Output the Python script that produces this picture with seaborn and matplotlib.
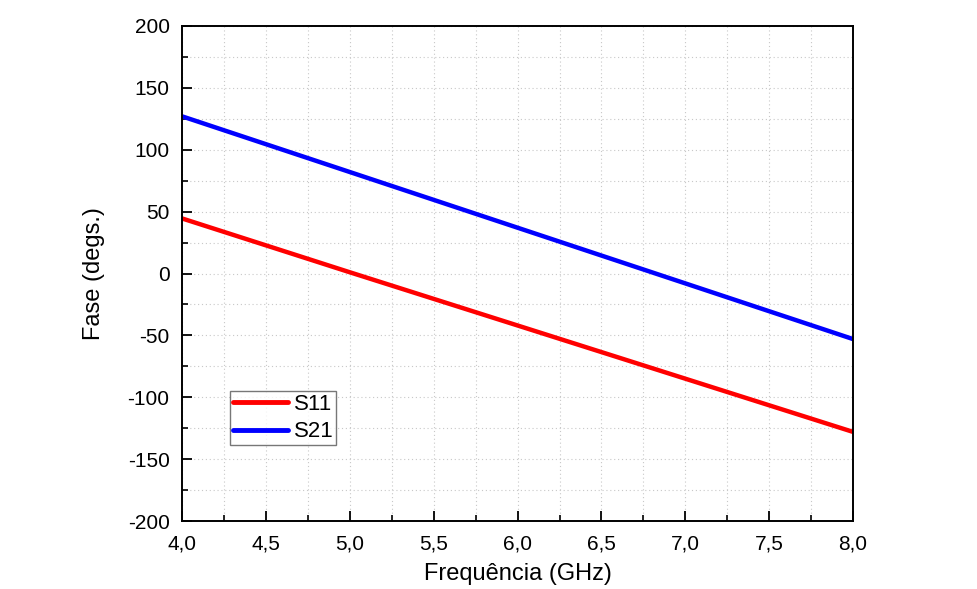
import matplotlib
matplotlib.use("Agg")
import matplotlib.pyplot as plt
import seaborn as sns
import pandas as pd
from matplotlib.ticker import MultipleLocator, FixedLocator, FixedFormatter

freq = [4.0, 5.0, 6.0, 7.0, 8.0]
s11 = [44.5, 1.0, -42.0, -85.0, -128.0]
s21 = [127.0, 82.0, 37.0, -8.0, -53.0]
x_ticks = [4.0, 4.5, 5.0, 5.5, 6.0, 6.5, 7.0, 7.5, 8.0]
x_tick_labels = ["4,0", "4,5", "5,0", "5,5", "6,0", "6,5", "7,0", "7,5", "8,0"]
y_ticks = [-200, -150, -100, -50, 0, 50, 100, 150, 200]

sns.set_theme(style="white")
plt.rcParams['font.family'] = ['Liberation Sans', 'DejaVu Sans']
plt.rcParams['axes.unicode_minus'] = False
plt.rcParams['text.color'] = 'black'
plt.rcParams['axes.labelcolor'] = 'black'
plt.rcParams['xtick.color'] = 'black'
plt.rcParams['ytick.color'] = 'black'

df = pd.DataFrame({
    "freq": freq * 2,
    "phase": s11 + s21,
    "serie": ["S11"] * len(freq) + ["S21"] * len(freq),
})

fig = plt.figure(figsize=(9.77, 5.89), dpi=100)
ax = fig.add_axes([0.1863, 0.1154, 0.6869, 0.8405])
sns.lineplot(data=df, x="freq", y="phase", hue="serie",
             palette={"S11": "#ff0000", "S21": "#0000ff"},
             linewidth=3.2, ax=ax, legend=True)

ax.set_xlim(4.0, 8.0)
ax.set_ylim(-200, 200)
ax.xaxis.set_major_locator(FixedLocator(x_ticks))
ax.xaxis.set_major_formatter(FixedFormatter(x_tick_labels))
ax.xaxis.set_minor_locator(MultipleLocator(0.25))
ax.yaxis.set_major_locator(FixedLocator(y_ticks))
ax.yaxis.set_minor_locator(MultipleLocator(25))

ax.grid(True, which="both", linestyle=(0, (1, 2.5)), color="#c8c8c8", linewidth=0.8)
ax.tick_params(axis="x", which="major", direction="in", length=7.5, width=1.3,
               labelsize=15, pad=9.5)
ax.tick_params(axis="x", which="minor", direction="in", length=4, width=1.2)
ax.tick_params(axis="y", which="major", direction="in", length=7.5, width=1.3,
               labelsize=15, pad=9)
ax.tick_params(axis="y", which="minor", direction="in", length=4, width=1.2)
ax.tick_params(which="both", bottom=True, left=True, top=False, right=False)
for sp in ax.spines.values():
    sp.set_color("black")
    sp.set_linewidth(1.4)

ax.set_xlabel("Frequência (GHz)", fontsize=17)
ax.set_ylabel("Fase (degs.)", fontsize=17)
ax.xaxis.set_label_coords(0.5, -0.084)
ax.yaxis.set_label_coords(-0.115, 0.5)

leg = ax.legend(loc="lower left", bbox_to_anchor=(0.0715, 0.1535), fontsize=16,
                frameon=True, fancybox=False, edgecolor="#555555",
                handlelength=2.5, handletextpad=0.25, borderpad=0.12,
                labelspacing=0.3, borderaxespad=0)
leg.get_frame().set_linewidth(1.0)
for line in leg.get_lines():
    line.set_linewidth(3.5)

fig.savefig("out.png", dpi=100)
